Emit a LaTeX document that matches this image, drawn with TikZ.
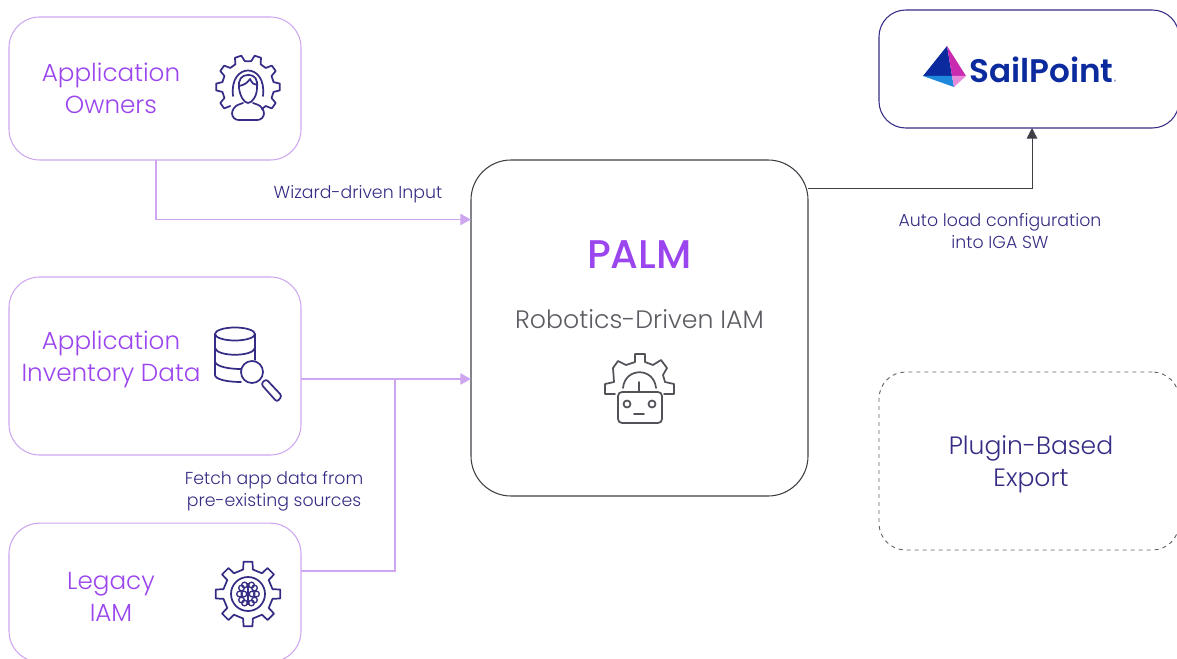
\documentclass[tikz,border=0pt]{standalone}
\usepackage{fontspec}
\setmainfont{Poppins Light}
\newfontfamily\logofont{Poppins SemiBold}
\newfontfamily\titlefont{Poppins Medium}
\usetikzlibrary{arrows.meta}
\definecolor{lilac}{HTML}{CDA6EF}
\definecolor{violet}{HTML}{9B45EE}
\definecolor{indigo}{HTML}{352D85}
\definecolor{slate}{HTML}{3F3F46}
\definecolor{spnavy}{HTML}{0A2A9E}
\definecolor{spmag}{HTML}{C82BB0}
\definecolor{spblue}{HTML}{1E88DC}
\definecolor{sppink}{HTML}{E88ADB}
\newcommand{\geartooth}[7]{%
  \foreach \c in {#5}{ -- ({#1+#4*cos(\c-#6)},{#2-#4*sin(\c-#6)})
    -- ({#1+#3*cos(\c-#7)},{#2-#3*sin(\c-#7)})
    -- ({#1+#3*cos(\c+#7)},{#2-#3*sin(\c+#7)})
    -- ({#1+#4*cos(\c+#6)},{#2-#4*sin(\c+#6)}) }}
\tikzset{
  softbox/.style={draw=lilac,line width=0.8pt,rounded corners=23pt,inner sep=0pt,outer sep=0pt},
  darkbox/.style={draw=slate,line width=0.8pt,inner sep=0pt,outer sep=0pt},
  softline/.style={draw=lilac,line width=0.9pt},
  softarrow/.style={softline,-{Triangle[length=8pt,width=8.5pt,fill=lilac]}},
  darkarrow/.style={draw=slate,line width=0.7pt,-{Triangle[length=8pt,width=8pt,fill=slate]}},
  iconline/.style={draw=indigo,line width=1.3pt,line join=round,line cap=round},
  roboline/.style={draw=slate!90,line width=1.3pt,line join=round,line cap=round},
  bigviolet/.style={text=violet,align=center,font=\fontsize{18.5}{24}\selectfont},
  smallindigo/.style={text=indigo,align=center,font=\fontsize{13}{16.5}\selectfont},
}
\begin{document}
\begin{tikzpicture}[x=0.75pt,y=-0.75pt]
\useasboundingbox (0,0) rectangle (1177,659);
\clip (0,0) rectangle (1177,659);
% boxes
\node[softbox,minimum width=219pt,minimum height=107.25pt] (owners) at (155,88.5) {};
\node[softbox,minimum width=219pt,minimum height=133.5pt] (inventory) at (155,366) {};
\node[softbox,minimum width=219pt,minimum height=104pt] (legacy) at (155,592.5) {};
\node[darkbox,rounded corners=30pt,minimum width=252.75pt,minimum height=252pt] (palm) at (639.5,328) {};
\node[draw=indigo,line width=0.8pt,rounded corners=20pt,inner sep=0pt,outer sep=0pt,minimum width=225pt,minimum height=88.5pt] (sail) at (1029,69) {};
\node[draw=slate!80,dashed,line width=0.7pt,rounded corners=20pt,inner sep=0pt,outer sep=0pt,minimum width=225pt,minimum height=133.5pt] (plugin) at (1029,461) {};
% labels
\node[bigviolet] (ownerstext) at (111,88) {Application\\Owners};
\node[bigviolet] (inventorytext) at (111,359) {Application\\Inventory Data};
\node[bigviolet] (legacytext) at (111,597) {Legacy\\IAM};
\node[text=violet,font=\titlefont\fontsize{30}{36}\selectfont] (palmtitle) at (639.5,255) {PALM};
\node[text=slate!85,font=\fontsize{18.9}{24}\selectfont] (palmsub) at (639.5,319) {Robotics-Driven IAM};
\node[text=indigo,align=center,font=\fontsize{18.8}{24}\selectfont] (plugintext) at (1031,464) {Plugin-Based\\Export};
\node[smallindigo] (wizard) at (358,194) {Wizard-driven Input};
\node[smallindigo] (fetch) at (274,491) {Fetch app data from\\pre-existing sources};
\node[smallindigo] (autoload) at (1000,231) {Auto load configuration\\into IGA SW};
% connectors
\coordinate (ownersout) at (156,160);
\coordinate (palmA) at (471,219.5);
\coordinate (palmB) at (471,379);
\coordinate (junction) at (395,379);
\coordinate (inventoryout) at (301,379);
\coordinate (legacyout) at (301,571);
\coordinate (palmout) at (808,188.5);
\coordinate (sailin) at (1032,128);
\draw[softarrow] (ownersout) |- (palmA);
\draw[softarrow] (inventoryout) -- (palmB);
\draw[softline] (legacyout) -| (junction);
\draw[darkarrow] (palmout) -| (sailin);
% owners icon
\draw[iconline] ({248+26*cos(-58)},{87-26*sin(-58)})
  \geartooth{248}{87}{32}{26}{-36,0,36,72,108,144,180,216}{11}{6};
\draw[iconline] (233,96) .. controls (229,62) and (267,62) .. (263,96);
\draw[iconline] (239,88) .. controls (238,79) and (242,75) .. (248,75) .. controls (255,75) and (258,79) .. (257,88) .. controls (257,96) and (252,103) .. (248,103) .. controls (244,103) and (240,96) .. (239,88);
\draw[iconline] (239,86) .. controls (245,85) and (248,82) .. (250,79) .. controls (252,83) and (254,85) .. (257,85);
\draw[iconline,rounded corners=5pt] (243,103) -- (232,107) -- (232,120) -- (264,120) -- (264,107) -- (253,103);
% database icon
\draw[iconline] (235,334) ellipse[x radius=20,y radius=6.5];
\draw[iconline] (215,334) -- (215,375) .. controls (215,379) and (226,382) .. (241,382);
\draw[iconline] (255,334) -- (255,360);
\draw[iconline] (215,348) .. controls (217,357) and (253,357) .. (255,348);
\draw[iconline] (215,362) .. controls (217,367) and (230,369) .. (241,369);
\draw[iconline] (252,372) circle[radius=11];
\draw[iconline,rounded corners=2pt] (261,384) -- (266,379) -- (282,396) -- (277,402) -- cycle;
% legacy gear
\draw[iconline] ({248+25*cos(-11)},{594-25*sin(-11)})
  \geartooth{248}{594}{32.5}{25}{0,45,90,135,180,225,270,315}{11}{8} -- cycle;
\draw[iconline] (248,594) circle[radius=17];
\foreach \pa/\pb in {241.5/588,254.5/588,239.5/594,256.5/594,241.5/600,254.5/600,244.5/585,251.5/585,244.5/603,251.5/603,244/594,252/594}{
  \draw[draw=indigo,line width=1pt] (\pa,\pb) circle[radius=2.8];}
\draw[draw=indigo,line width=1.2pt] (248,583) -- (248,605);
% robot icon
\draw[roboline] (615,394) -- (605,394) -- (605,384) -- (614,382) -- (613,368) -- (618,361) -- (626,365) -- (635,362) -- (635,354) -- (645,354) -- (645,362) -- (653,365) -- (661,360) -- (667,368) -- (663,375) -- (665,382) -- (674,384) -- (674,394) -- (664,394);
\draw[roboline,rounded corners=3pt] (618,392) rectangle (662,423);
\draw[roboline] (623,388) .. controls (625,367) and (654,367) .. (656,388);
\draw[roboline] (639,382) -- (639,392);
\draw[roboline] (627,404) circle[radius=3.5];
\draw[roboline] (652,404) circle[radius=3.5];
\draw[roboline] (634,414) -- (644,414);
% SailPoint logo
\fill[spnavy] (947,46) -- (923,76) -- (952,76) -- cycle;
\fill[spmag] (947,46) -- (966,76) -- (952,76) -- cycle;
\fill[spblue] (923,76) -- (952,76) -- (954,87) -- cycle;
\fill[sppink] (952,76) -- (966,76) -- (954,87) -- cycle;
\node[text=spnavy,font=\logofont\fontsize{24.5}{30}\selectfont,inner sep=0pt,anchor=base west] (sailword) at (969,83) {SailPoint};
\node[text=spnavy,font=\fontsize{3.5}{4}\selectfont,inner sep=0pt] (sailmark) at (1115,81.5) {®};
\end{tikzpicture}
\end{document}
